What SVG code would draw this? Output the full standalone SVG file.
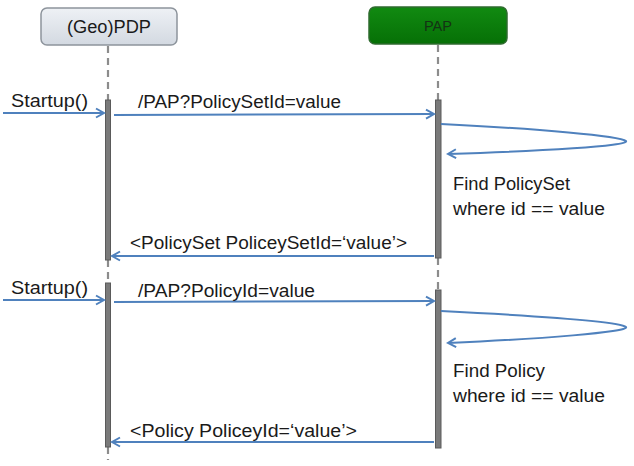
<svg xmlns="http://www.w3.org/2000/svg" width="634" height="466" viewBox="0 0 634 466">
<defs>
<linearGradient id="gPdp" x1="0" y1="0" x2="0" y2="1"><stop offset="0" stop-color="#eef1f5"/><stop offset="1" stop-color="#d3d9e1"/></linearGradient>
<linearGradient id="gPap" x1="0" y1="0" x2="0" y2="1"><stop offset="0" stop-color="#118a11"/><stop offset="1" stop-color="#067006"/></linearGradient>
<marker id="ah" viewBox="0 0 12 12" refX="10" refY="6" markerWidth="12" markerHeight="12" markerUnits="userSpaceOnUse" orient="auto">
<path d="M2,1.5 L10,6 L2,10.5" fill="none" stroke="#4f81bd" stroke-width="2"/>
</marker>
</defs>
<style>
text{font-family:"Liberation Sans","Open Sans",Arial,sans-serif;font-size:17.5px;fill:#1a1a1a}
.life{stroke:#8c8c8c;stroke-width:2.2;stroke-dasharray:7,5;fill:none}
.bar{fill:#7a7a7a;stroke:#5a5a5a;stroke-width:1}
.msg{stroke:#4f81bd;stroke-width:2;fill:none;marker-end:url(#ah)}
</style>
<rect width="634" height="466" fill="#ffffff"/>
<g id="pdp">
<rect x="41" y="8" width="136" height="37" rx="6" fill="url(#gPdp)" stroke="#8d949c" stroke-width="1.5"/>
<text x="67" y="33" textLength="84" lengthAdjust="spacingAndGlyphs">(Geo)PDP</text>
</g>
<g id="pap">
<rect x="369" y="7" width="138" height="37" rx="6" fill="url(#gPap)" stroke="#2f6b2f" stroke-width="1.5"/>
<text x="424" y="31" textLength="28" lengthAdjust="spacingAndGlyphs" style="font-size:15px;fill:#143214">PAP</text>
</g>
<g id="lifelines">
<line class="life" x1="108" y1="46" x2="108" y2="100"/>
<line class="life" x1="108" y1="260" x2="108" y2="284"/>
<line class="life" x1="108" y1="447" x2="108" y2="460"/>
<line class="life" x1="438" y1="45" x2="438" y2="100"/>
<line class="life" x1="438" y1="258" x2="438" y2="290"/>
</g>
<g id="activations">
<rect class="bar" x="105.5" y="100" width="5" height="160"/>
<rect class="bar" x="105.5" y="283" width="5" height="164"/>
<rect class="bar" x="435.5" y="100" width="5.5" height="158"/>
<rect class="bar" x="435.5" y="290" width="5.5" height="158"/>
</g>
<g id="connectors">
<line class="msg" x1="3" y1="113" x2="104" y2="113"/>
<line class="msg" x1="114" y1="115" x2="434" y2="114"/>
<path class="msg" d="M441,124 C540,129 620,136 626,141 C630,146 540,151 448,154"/>
<line class="msg" x1="434" y1="256" x2="112" y2="256"/>
<line class="msg" x1="3" y1="300" x2="104" y2="300"/>
<line class="msg" x1="114" y1="302" x2="434" y2="301"/>
<path class="msg" d="M441,311 C540,316 620,322 626,327 C630,332 540,339 448,343"/>
<line class="msg" x1="434" y1="442" x2="112" y2="442"/>
</g>
<g id="labels">
<text x="11" y="107" textLength="77" lengthAdjust="spacingAndGlyphs">Startup()</text>
<text x="138" y="108" textLength="203" lengthAdjust="spacingAndGlyphs">/PAP?PolicySetId=value</text>
<text x="453" y="190" textLength="117" lengthAdjust="spacingAndGlyphs">Find PolicySet</text>
<text x="453" y="215" textLength="152" lengthAdjust="spacingAndGlyphs">where id == value</text>
<text x="130" y="249" textLength="277" lengthAdjust="spacingAndGlyphs">&lt;PolicySet PoliceySetId=‘value’&gt;</text>
<text x="11" y="294" textLength="77" lengthAdjust="spacingAndGlyphs">Startup()</text>
<text x="138" y="297" textLength="177" lengthAdjust="spacingAndGlyphs">/PAP?PolicyId=value</text>
<text x="453" y="377" textLength="92" lengthAdjust="spacingAndGlyphs">Find Policy</text>
<text x="453" y="402" textLength="152" lengthAdjust="spacingAndGlyphs">where id == value</text>
<text x="130" y="437" textLength="227" lengthAdjust="spacingAndGlyphs">&lt;Policy PoliceyId=‘value’&gt;</text>
</g>
</svg>
